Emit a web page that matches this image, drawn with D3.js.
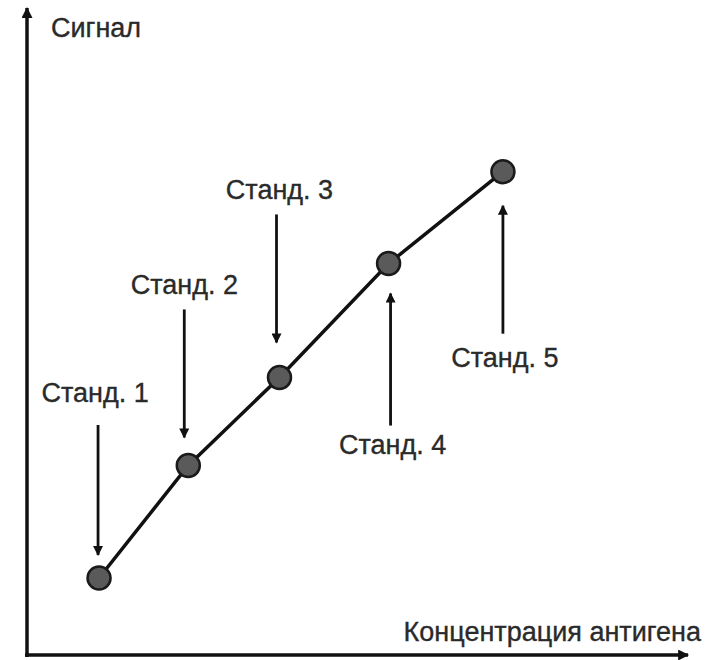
<!DOCTYPE html>
<html>
<head>
<meta charset="utf-8">
<script src="https://cdn.jsdelivr.net/npm/d3@7"></script>
<style>
  html, body { margin: 0; padding: 0; background: #fff; }
  svg { display: block; }
  text { font-family: "Liberation Sans", Arial, sans-serif; fill: #2a2a2a; stroke: #2a2a2a; stroke-width: 0.35px; }
</style>
</head>
<body>
<svg id="chart" width="710" height="660"></svg>
<script>
// Calibration standards: antigen concentration vs. signal (relative units)
const standards = ["Станд. 1", "Станд. 2", "Станд. 3", "Станд. 4", "Станд. 5"];
const concentration = [10.9, 24.4, 38.2, 54.7, 72.0];
const signal = [11.9, 29.3, 42.9, 60.5, 74.7];

const xAxisTitle = "Концентрация антигена";
const yAxisTitle = "Сигнал";

// Callout layout for each standard: which side the arrow comes from,
// horizontal nudge of the arrow, gap to the marker, arrow length,
// label gap and label nudge.
const callouts = [
  { side: "above", dx: -1, gap: 23, len: 130, labelGap: 23, ldx: -3 },
  { side: "above", dx: -4, gap: 28, len: 128, labelGap: 15, ldx: 0 },
  { side: "above", dx: -3, gap: 35, len: 128, labelGap: 15, ldx: 3 },
  { side: "below", dx: 2,  gap: 30, len: 132, labelGap: 28, ldx: 2 },
  { side: "below", dx: 0,  gap: 34, len: 128, labelGap: 33, ldx: 2 }
];

const svg = d3.select("#chart");
const originX = 27, originY = 655, plotRight = 688, plotTop = 8;
const fontSize = 27;

const x = d3.scaleLinear().domain([0, 100]).range([originX, plotRight]);
const y = d3.scaleLinear().domain([0, 100]).range([originY, plotTop]);

const defs = svg.append("defs");
function marker(id, w, h) {
  defs.append("marker")
    .attr("id", id)
    .attr("viewBox", "0 0 10 10")
    .attr("refX", 9).attr("refY", 5)
    .attr("markerUnits", "userSpaceOnUse")
    .attr("markerWidth", w).attr("markerHeight", h)
    .attr("orient", "auto")
    .append("path")
    .attr("d", "M0,0 L10,5 L0,10 Z")
    .attr("fill", "#111");
}
marker("axisHead", 12, 11);
marker("calloutHead", 11, 10);

// Axes with arrowheads
svg.append("line")
  .attr("x1", x(0)).attr("y1", y(0) + 2)
  .attr("x2", x(0)).attr("y2", y(100))
  .attr("stroke", "#111").attr("stroke-width", 3.5)
  .attr("marker-end", "url(#axisHead)");
svg.append("line")
  .attr("x1", x(0) - 2).attr("y1", y(0))
  .attr("x2", x(100)).attr("y2", y(0))
  .attr("stroke", "#111").attr("stroke-width", 3.5)
  .attr("marker-end", "url(#axisHead)");

svg.append("text")
  .attr("x", 51).attr("y", 37)
  .attr("font-size", fontSize)
  .text(yAxisTitle);

svg.append("text")
  .attr("x", 701).attr("y", 641)
  .attr("text-anchor", "end")
  .attr("font-size", fontSize)
  .text(xAxisTitle);

const pts = concentration.map((c, i) => ({ c, s: signal[i], name: standards[i], co: callouts[i] }));

// Calibration line
svg.append("path")
  .datum(pts)
  .attr("d", d3.line().x(d => x(d.c)).y(d => y(d.s)))
  .attr("fill", "none")
  .attr("stroke", "#111")
  .attr("stroke-width", 3.5);

// Markers
svg.selectAll("circle.std")
  .data(pts)
  .join("circle")
  .attr("class", "std")
  .attr("cx", d => x(d.c))
  .attr("cy", d => y(d.s))
  .attr("r", 11.5)
  .attr("fill", "#5a5a5a")
  .attr("stroke", "#1a1a1a")
  .attr("stroke-width", 2.5);

// Callout arrows and labels
const g = svg.selectAll("g.callout").data(pts).join("g").attr("class", "callout");
g.append("line")
  .attr("x1", d => x(d.c) + d.co.dx)
  .attr("x2", d => x(d.c) + d.co.dx)
  .attr("y1", d => d.co.side === "above"
      ? y(d.s) - d.co.gap - d.co.len
      : y(d.s) + d.co.gap + d.co.len)
  .attr("y2", d => d.co.side === "above"
      ? y(d.s) - d.co.gap
      : y(d.s) + d.co.gap)
  .attr("stroke", "#111")
  .attr("stroke-width", 2.8)
  .attr("marker-end", "url(#calloutHead)");

g.append("text")
  .attr("x", d => x(d.c) + d.co.dx + d.co.ldx)
  .attr("y", d => d.co.side === "above"
      ? y(d.s) - d.co.gap - d.co.len - d.co.labelGap
      : y(d.s) + d.co.gap + d.co.len + d.co.labelGap)
  .attr("text-anchor", "middle")
  .attr("font-size", fontSize)
  .text(d => d.name);
</script>
</body>
</html>
